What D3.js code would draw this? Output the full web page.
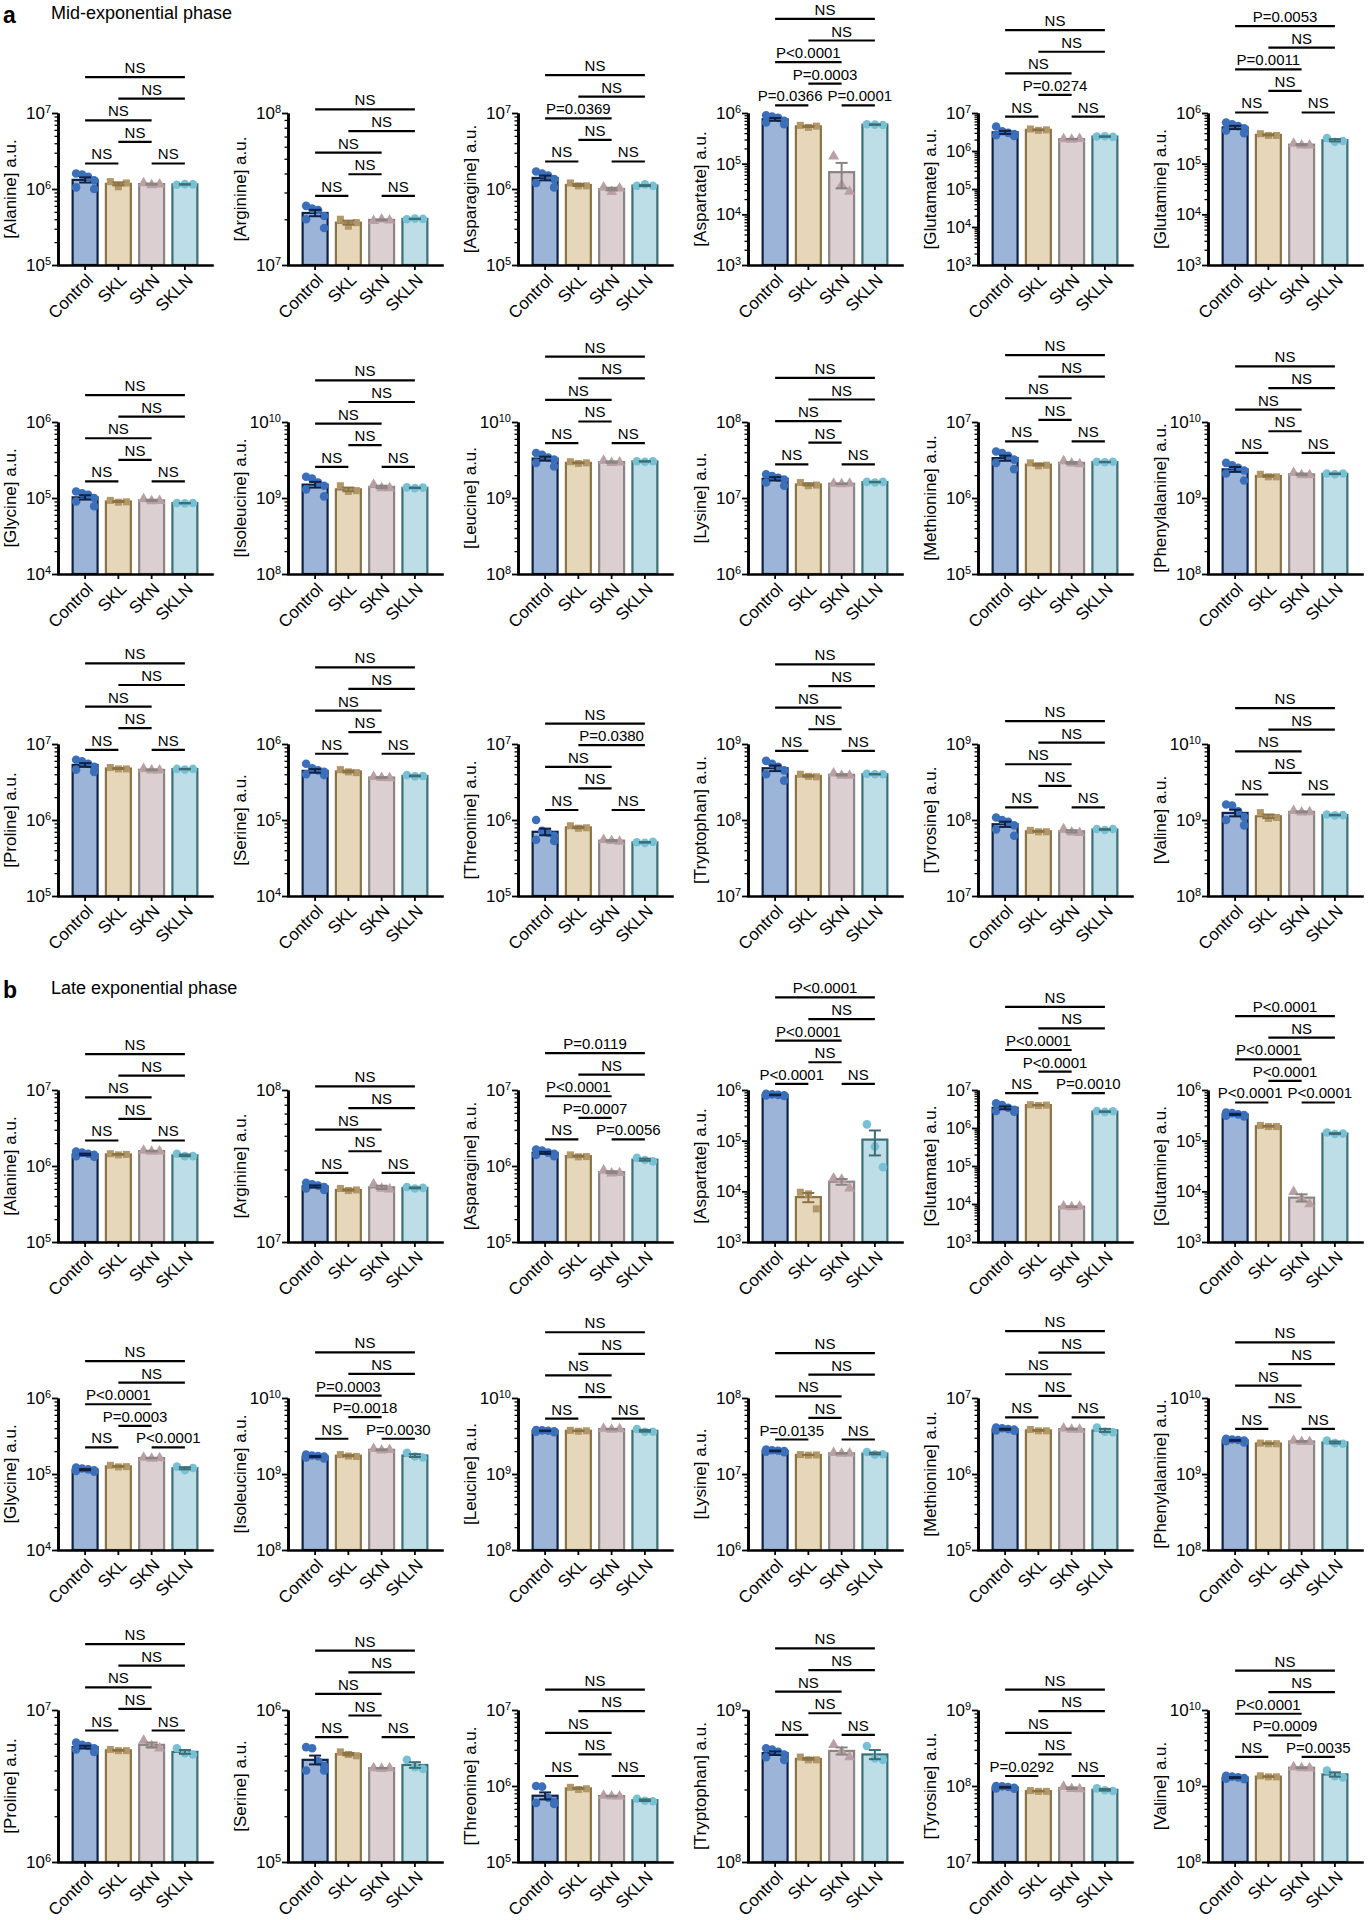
<!DOCTYPE html>
<html>
<head>
<meta charset="utf-8">
<script src="https://cdn.jsdelivr.net/npm/d3@7"></script>
<style>
  body { margin: 0; background: #fff; }
</style>
</head>
<body>
<div id="chart"></div>
<script>
const groups = ["Control", "SKL", "SKN", "SKLN"];
const aminoAcids = ["Alanine", "Arginine", "Asparagine", "Aspartate", "Glutamate", "Glutamine",
  "Glycine", "Isoleucine", "Leucine", "Lysine", "Methionine", "Phenylalanine",
  "Proline", "Serine", "Threonine", "Tryptophan", "Tyrosine", "Valine"];

// y axis decades (exponents) per panel
const midDomain = [[5,7],[7,8],[5,7],[3,6],[3,7],[3,6],[4,6],[8,10],[8,10],[6,8],[5,7],[8,10],[5,7],[4,6],[5,7],[7,9],[7,9],[8,10]];
const lateDomain = [[5,7],[7,8],[5,7],[3,6],[3,7],[3,6],[4,6],[8,10],[8,10],[6,8],[5,7],[8,10],[6,7],[5,6],[5,7],[8,9],[7,9],[8,10]];

// bar heights (means) Control, SKL, SKN, SKLN
const midMeans = [
  [1.32e6, 1.17e6, 1.16e6, 1.15e6],
  [2.2e7, 1.9e7, 1.98e7, 2.01e7],
  [1.4e6, 1.13e6, 1.0e6, 1.11e6],
  [7.5e5, 5.45e5, 6.8e4, 5.9e5],
  [3.1e6, 3.6e6, 2.05e6, 2.4e6],
  [5.2e5, 3.7e5, 2.37e5, 2.9e5],
  [1.02e5, 9.0e4, 9.3e4, 8.55e4],
  [1.5e9, 1.3e9, 1.4e9, 1.36e9],
  [3.3e9, 2.9e9, 2.97e9, 3.03e9],
  [1.79e7, 1.51e7, 1.54e7, 1.62e7],
  [3.35e6, 2.75e6, 2.9e6, 2.97e6],
  [2.38e9, 1.95e9, 2.05e9, 2.08e9],
  [5.3e6, 4.76e6, 4.57e6, 4.67e6],
  [4.43e5, 4.35e5, 3.62e5, 3.8e5],
  [7.0e5, 8.0e5, 5.35e5, 5.08e5],
  [4.8e8, 3.8e8, 3.93e8, 4.0e8],
  [8.8e7, 7.1e7, 7.1e7, 7.5e7],
  [1.24e9, 1.12e9, 1.28e9, 1.16e9]
];
const lateMeans = [
  [1.42e6, 1.42e6, 1.57e6, 1.38e6],
  [2.32e7, 2.2e7, 2.29e7, 2.27e7],
  [1.49e6, 1.35e6, 8.3e5, 1.21e6],
  [8.0e5, 7.7e3, 1.55e4, 1.05e5],
  [3.4e6, 4.0e6, 8.5e3, 2.7e6],
  [3.3e5, 1.93e5, 7.5e3, 1.38e5],
  [1.14e5, 1.26e5, 1.62e5, 1.19e5],
  [1.7e9, 1.74e9, 2.08e9, 1.75e9],
  [3.7e9, 3.7e9, 3.9e9, 3.7e9],
  [2.01e7, 1.78e7, 1.87e7, 1.86e7],
  [3.88e6, 3.75e6, 3.9e6, 3.75e6],
  [2.77e9, 2.52e9, 2.68e9, 2.6e9],
  [5.7e6, 5.43e6, 5.9e6, 5.3e6],
  [4.7e5, 5.13e5, 4.14e5, 4.35e5],
  [7.45e5, 9.3e5, 7.37e5, 6.5e5],
  [5.2e8, 4.77e8, 5.38e8, 5.1e8],
  [9.6e7, 8.57e7, 9.37e7, 8.9e7],
  [1.29e9, 1.33e9, 1.74e9, 1.42e9]
];

// replicate points: Control (n=6), SKL, SKN, SKLN (n=3)
const midPoints = [
  [[1.6e6,1.55e6,1.45e6,1.3e6,1.05e6,1.0e6],[1.25e6,1.07e6,1.2e6],[1.2e6,1.13e6,1.15e6],[1.14e6,1.16e6,1.15e6]],
  [[2.45e7,2.35e7,2.3e7,2.1e7,2.0e7,1.75e7],[2.0e7,1.8e7,1.9e7],[1.95e7,2.0e7,1.97e7],[2.0e7,2.02e7,2.01e7]],
  [[1.7e6,1.6e6,1.5e6,1.35e6,1.2e6,1.05e6],[1.2e6,1.1e6,1.1e6],[1.05e6,0.92e6,1.02e6],[1.1e6,1.15e6,1.1e6]],
  [[9.0e5,8.5e5,8.0e5,7.0e5,6.5e5,6.0e5],[5.7e5,5.2e5,5.5e5],[1.39e5,3.8e4,2.8e4],[6.0e5,5.9e5,5.8e5]],
  [[4.4e6,3.3e6,3.0e6,2.8e6,2.6e6,2.5e6],[3.8e6,3.5e6,3.6e6],[2.05e6,2.0e6,2.1e6],[2.4e6,2.45e6,2.35e6]],
  [[6.5e5,6.0e5,5.5e5,5.0e5,4.5e5,4.0e5],[3.9e5,3.6e5,3.6e5],[2.5e5,2.3e5,2.3e5],[3.2e5,2.7e5,2.8e5]],
  [[1.22e5,1.15e5,1.1e5,1.0e5,0.9e5,0.78e5],[9.3e4,8.8e4,8.9e4],[9.7e4,9.1e4,9.2e4],[8.6e4,8.5e4,8.6e4]],
  [[1.9e9,1.8e9,1.6e9,1.45e9,1.3e9,1.05e9],[1.45e9,1.22e9,1.25e9],[1.5e9,1.35e9,1.35e9],[1.38e9,1.35e9,1.37e9]],
  [[3.9e9,3.7e9,3.4e9,3.2e9,2.9e9,2.6e9],[3.0e9,2.85e9,2.9e9],[3.1e9,2.9e9,2.95e9],[3.05e9,3.0e9,3.05e9]],
  [[2.05e7,1.95e7,1.85e7,1.75e7,1.6e7,1.45e7],[1.6e7,1.45e7,1.48e7],[1.55e7,1.52e7,1.55e7],[1.63e7,1.6e7,1.63e7]],
  [[4.1e6,3.9e6,3.6e6,3.2e6,2.9e6,2.4e6],[2.9e6,2.65e6,2.7e6],[3.05e6,2.85e6,2.8e6],[3.0e6,2.95e6,3.0e6]],
  [[2.9e9,2.7e9,2.5e9,2.3e9,2.1e9,1.7e9],[2.05e9,1.9e9,1.9e9],[2.15e9,2.0e9,2.0e9],[2.1e9,2.05e9,2.1e9]],
  [[6.2e6,5.9e6,5.5e6,5.0e6,4.6e6,4.3e6],[4.9e6,4.7e6,4.7e6],[4.7e6,4.5e6,4.5e6],[4.7e6,4.6e6,4.7e6]],
  [[5.5e5,4.8e5,4.5e5,4.3e5,4.0e5,3.9e5],[4.6e5,4.3e5,4.2e5],[3.7e5,3.6e5,3.55e5],[3.9e5,3.75e5,3.8e5]],
  [[1.0e6,7.2e5,6.8e5,6.2e5,5.5e5,5.3e5],[8.4e5,7.8e5,7.9e5],[5.5e5,5.3e5,5.2e5],[5.1e5,5.0e5,5.15e5]],
  [[6.0e8,5.5e8,5.0e8,4.5e8,4.0e8,3.3e8],[4.0e8,3.75e8,3.7e8],[4.1e8,3.85e8,3.85e8],[4.05e8,4.0e8,4.0e8]],
  [[1.08e8,1.0e8,9.5e7,8.5e7,7.5e7,6.2e7],[7.3e7,7.0e7,7.0e7],[7.6e7,6.9e7,6.8e7],[7.6e7,7.4e7,7.6e7]],
  [[1.6e9,1.55e9,1.3e9,1.1e9,1.0e9,0.85e9],[1.25e9,1.05e9,1.08e9],[1.32e9,1.26e9,1.27e9],[1.18e9,1.15e9,1.16e9]]
];
const latePoints = [
  [[1.55e6,1.5e6,1.45e6,1.4e6,1.35e6,1.32e6],[1.45e6,1.4e6,1.42e6],[1.6e6,1.55e6,1.56e6],[1.45e6,1.35e6,1.35e6]],
  [[2.45e7,2.4e7,2.35e7,2.3e7,2.25e7,2.2e7],[2.25e7,2.18e7,2.2e7],[2.4e7,2.25e7,2.22e7],[2.3e7,2.25e7,2.27e7]],
  [[1.65e6,1.6e6,1.5e6,1.45e6,1.4e6,1.35e6],[1.4e6,1.32e6,1.33e6],[8.8e5,8.0e5,8.1e5],[1.28e6,1.2e6,1.15e6]],
  [[8.4e5,8.2e5,8.0e5,7.9e5,7.8e5,7.6e5],[9.6e3,8.9e3,4.5e3],[1.8e4,1.7e4,1.15e4],[2.1e5,7.7e4,3.0e4]],
  [[4.5e6,4.0e6,3.4e6,3.0e6,2.8e6,2.7e6],[4.1e6,3.9e6,4.0e6],[8.7e3,8.3e3,8.6e3],[2.8e6,2.65e6,2.75e6]],
  [[3.6e5,3.5e5,3.3e5,3.2e5,3.1e5,3.0e5],[2.0e5,1.9e5,1.9e5],[9.8e3,7.2e3,5.6e3],[1.45e5,1.35e5,1.38e5]],
  [[1.22e5,1.18e5,1.15e5,1.12e5,1.1e5,1.07e5],[1.3e5,1.24e5,1.25e5],[1.65e5,1.6e5,1.62e5],[1.25e5,1.12e5,1.2e5]],
  [[1.8e9,1.75e9,1.72e9,1.7e9,1.65e9,1.6e9],[1.8e9,1.72e9,1.7e9],[2.15e9,2.05e9,2.08e9],[1.9e9,1.7e9,1.65e9]],
  [[3.8e9,3.75e9,3.7e9,3.65e9,3.6e9,3.55e9],[3.75e9,3.65e9,3.7e9],[3.95e9,3.85e9,3.9e9],[3.9e9,3.6e9,3.6e9]],
  [[2.1e7,2.05e7,2.02e7,2.0e7,1.97e7,1.93e7],[1.8e7,1.77e7,1.78e7],[1.9e7,1.85e7,1.87e7],[1.95e7,1.8e7,1.82e7]],
  [[4.1e6,4.0e6,3.9e6,3.85e6,3.75e6,3.7e6],[3.85e6,3.7e6,3.7e6],[4.0e6,3.85e6,3.85e6],[4.1e6,3.6e6,3.55e6]],
  [[2.9e9,2.85e9,2.8e9,2.75e9,2.7e9,2.6e9],[2.55e9,2.5e9,2.5e9],[2.75e9,2.65e9,2.65e9],[2.75e9,2.55e9,2.5e9]],
  [[6.1e6,5.9e6,5.8e6,5.6e6,5.5e6,5.3e6],[5.5e6,5.4e6,5.4e6],[6.3e6,5.8e6,5.6e6],[5.6e6,5.2e6,5.1e6]],
  [[5.7e5,5.6e5,4.6e5,4.3e5,4.0e5,4.0e5],[5.3e5,5.1e5,5.0e5],[4.15e5,4.1e5,4.15e5],[4.7e5,4.2e5,4.1e5]],
  [[1.0e6,9.8e5,7.0e5,6.2e5,6.0e5,5.8e5],[9.6e5,9.0e5,9.2e5],[7.5e5,7.3e5,7.3e5],[6.8e5,6.4e5,6.3e5]],
  [[5.6e8,5.5e8,5.3e8,5.1e8,4.9e8,4.7e8],[4.9e8,4.7e8,4.7e8],[5.9e8,5.3e8,4.9e8],[5.8e8,4.8e8,4.7e8]],
  [[1.0e8,9.9e7,9.7e7,9.5e7,9.3e7,9.2e7],[8.7e7,8.5e7,8.5e7],[9.8e7,9.2e7,9.1e7],[9.3e7,8.8e7,8.6e7]],
  [[1.36e9,1.33e9,1.3e9,1.27e9,1.25e9,1.23e9],[1.36e9,1.32e9,1.32e9],[1.78e9,1.72e9,1.72e9],[1.6e9,1.35e9,1.3e9]]
];

// comparison labels, order: C-SKL, SKN-SKLN, SKL-SKN, C-SKN, SKL-SKLN, C-SKLN
const NS6 = ["NS", "NS", "NS", "NS", "NS", "NS"];
const midP = [
  NS6, NS6,
  ["NS", "NS", "NS", "P=0.0369", "NS", "NS"],
  ["P=0.0366", "P=0.0001", "P=0.0003", "P<0.0001", "NS", "NS"],
  ["NS", "NS", "P=0.0274", "NS", "NS", "NS"],
  ["NS", "NS", "NS", "P=0.0011", "NS", "P=0.0053"],
  NS6, NS6, NS6, NS6, NS6, NS6,
  NS6, NS6,
  ["NS", "NS", "NS", "NS", "P=0.0380", "NS"],
  NS6, NS6, NS6
];
const lateP = [
  NS6, NS6,
  ["NS", "P=0.0056", "P=0.0007", "P<0.0001", "NS", "P=0.0119"],
  ["P<0.0001", "NS", "NS", "P<0.0001", "NS", "P<0.0001"],
  ["NS", "P=0.0010", "P<0.0001", "P<0.0001", "NS", "NS"],
  ["P<0.0001", "P<0.0001", "P<0.0001", "P<0.0001", "NS", "P<0.0001"],
  ["NS", "P<0.0001", "P=0.0003", "P<0.0001", "NS", "NS"],
  ["NS", "P=0.0030", "P=0.0018", "P=0.0003", "NS", "NS"],
  NS6,
  ["P=0.0135", "NS", "NS", "NS", "NS", "NS"],
  NS6, NS6,
  NS6, NS6, NS6, NS6,
  ["P=0.0292", "NS", "NS", "NS", "NS", "NS"],
  ["NS", "P=0.0035", "P=0.0009", "P<0.0001", "NS", "NS"]
];
// [group a, group b, level]
const pairs = [[0, 1, 0], [2, 3, 0], [1, 2, 1], [0, 2, 2], [1, 3, 3], [0, 3, 4]];

// layout
const FONT = "'Liberation Sans', Arial, Helvetica, sans-serif";
const plotH = 152, axisLen = 154, levelGap = 21.6;
const colX = [58, 288, 518, 748, 978, 1208];
const midRowTop = [113, 422, 744];
const lateRowTop = [1090, 1398, 1710];
const fills = ["#9db4d9", "#e6d6ba", "#dccfd1", "#bddee6"];
const strokes = ["#0f2244", "#8a7345", "#8a8582", "#3d6e75"];
const dotColors = ["#3b6fba", "#b29869", "#b9a0a4", "#78c1d5"];
const symbols = [d3.symbolCircle, d3.symbolSquare, d3.symbolTriangle, d3.symbolCircle];
const off6 = [-9, -3, 3, 9, -9, 9];
const off3 = [-8, 0, 8];

const svg = d3.select("#chart").append("svg")
  .attr("width", 1371).attr("height", 1920)
  .attr("font-family", FONT);

function drawPanel(tx, ty, name, dom, means, pts, pv) {
  const g = svg.append("g").attr("transform", "translate(" + tx + "," + ty + ")");
  const y = d3.scaleLog().domain([Math.pow(10, dom[0]), Math.pow(10, dom[1])]).range([plotH, 0]);
  const x = d3.scaleBand().domain(groups).range([0, axisLen]).paddingInner(0.19).paddingOuter(0.41);
  const bw = x.bandwidth();
  const sem = pts.map(p => d3.deviation(p) / Math.sqrt(p.length));

  // bars
  g.selectAll(".bar").data(groups).join("rect")
    .attr("class", "bar")
    .attr("x", d => x(d) + 1)
    .attr("width", bw - 2)
    .attr("y", (d, i) => y(means[i]))
    .attr("height", (d, i) => plotH - y(means[i]))
    .attr("fill", (d, i) => fills[i])
    .attr("stroke", (d, i) => strokes[i])
    .attr("stroke-width", 2.2);

  // points + error bars
  groups.forEach((gr, i) => {
    const cx = x(gr) + bw / 2;
    const offs = pts[i].length === 6 ? off6 : off3;
    g.append("g").selectAll("path").data(pts[i]).join("path")
      .attr("d", d3.symbol().type(symbols[i]).size(i === 1 ? 50 : (i === 2 ? 52 : 58)))
      .attr("transform", (d, j) => "translate(" + (cx + offs[j]) + "," + y(d) + ")")
      .attr("fill", dotColors[i]);

    const yHi = y(means[i] + sem[i]);
    const yLo = y(Math.max(means[i] - sem[i], y.domain()[0]));
    const eb = g.append("g").attr("stroke", strokes[i]).attr("stroke-width", 2);
    eb.append("line").attr("x1", cx).attr("x2", cx).attr("y1", yLo).attr("y2", yHi);
    eb.append("line").attr("x1", cx - 6).attr("x2", cx + 6).attr("y1", yHi).attr("y2", yHi);
    eb.append("line").attr("x1", cx - 6).attr("x2", cx + 6).attr("y1", yLo).attr("y2", yLo);
  });

  // y axis: minor and major log ticks
  const majors = d3.range(dom[0], dom[1] + 1).map(e => Math.pow(10, e));
  const minors = [];
  for (let e = dom[0]; e < dom[1]; e++) {
    for (let k = 2; k < 10; k++) minors.push(k * Math.pow(10, e));
  }
  g.append("g")
    .call(d3.axisLeft(y).tickValues(minors).tickSize(3.5).tickFormat("").tickSizeOuter(0))
    .call(a => a.selectAll(".tick line").attr("stroke-width", 1.3));
  const yAx = g.append("g")
    .call(d3.axisLeft(y).tickValues(majors).tickSize(6).tickPadding(1).tickSizeOuter(0).tickFormat(() => "10"))
    .attr("font-family", FONT).attr("font-size", 17);
  yAx.selectAll(".tick line").attr("stroke-width", 1.8);
  yAx.selectAll(".tick text").attr("fill", "#000")
    .append("tspan").attr("dy", "-0.5em").attr("font-size", 11)
    .text(d => Math.round(Math.log10(d)));
  g.selectAll(".domain").attr("stroke-width", 2.6);

  // x axis
  const xAx = g.append("g")
    .attr("transform", "translate(0," + plotH + ")")
    .call(d3.axisBottom(x).tickSize(5).tickSizeOuter(0))
    .attr("font-family", FONT).attr("font-size", 17);
  xAx.select(".domain").attr("stroke-width", 2.6).attr("stroke-linecap", "square");
  xAx.selectAll(".tick line").attr("stroke-width", 1.8);
  xAx.selectAll(".tick text")
    .attr("x", 0).attr("y", 0).attr("dy", null)
    .attr("fill", "#000")
    .attr("text-anchor", "end")
    .attr("transform", "translate(9,16) rotate(-45)");

  // y label
  g.append("text")
    .attr("transform", "translate(-42," + (plotH / 2) + ") rotate(-90)")
    .attr("text-anchor", "middle")
    .attr("font-size", 17)
    .text("[" + name + "] a.u.");

  // significance brackets
  const tops = [];
  pts.forEach((p, i) => {
    p.forEach(v => tops.push(y(v)));
    tops.push(y(means[i] + sem[i]));
  });
  const base = d3.min(tops) - 10;
  const labels = [];
  pairs.forEach((pr, k) => {
    const ly = base - pr[2] * levelGap;
    const x1 = x(groups[pr[0]]) + bw / 2;
    const x2 = x(groups[pr[1]]) + bw / 2;
    g.append("line")
      .attr("x1", x1).attr("x2", x2).attr("y1", ly).attr("y2", ly)
      .attr("stroke", "#000").attr("stroke-width", 2.2);
    labels.push(g.append("text")
      .attr("x", (x1 + x2) / 2).attr("y", ly - 4)
      .attr("text-anchor", "middle")
      .attr("font-size", 15)
      .text(pv[k]));
  });
  // push apart the two labels sharing the lowest level when they collide
  const a = labels[0], b = labels[1];
  const ax = +a.attr("x"), bx = +b.attr("x");
  const gap = (bx - b.node().getComputedTextLength() / 2) - (ax + a.node().getComputedTextLength() / 2);
  if (gap < 5) {
    const s = (5 - gap) / 2;
    a.attr("x", ax - s);
    b.attr("x", bx + s);
  }
}

aminoAcids.forEach((aa, p) => {
  const r = Math.floor(p / 6), c = p % 6;
  drawPanel(colX[c], midRowTop[r], aa, midDomain[p], midMeans[p], midPoints[p], midP[p]);
  drawPanel(colX[c], lateRowTop[r], aa, lateDomain[p], lateMeans[p], latePoints[p], lateP[p]);
});

// section headers
svg.append("text").attr("x", 3).attr("y", 23).attr("font-size", 23).attr("font-weight", "bold").text("a");
svg.append("text").attr("x", 51).attr("y", 19).attr("font-size", 18).text("Mid-exponential phase");
svg.append("text").attr("x", 3).attr("y", 998).attr("font-size", 23).attr("font-weight", "bold").text("b");
svg.append("text").attr("x", 51).attr("y", 994).attr("font-size", 18).text("Late exponential phase");
</script>
</body>
</html>
